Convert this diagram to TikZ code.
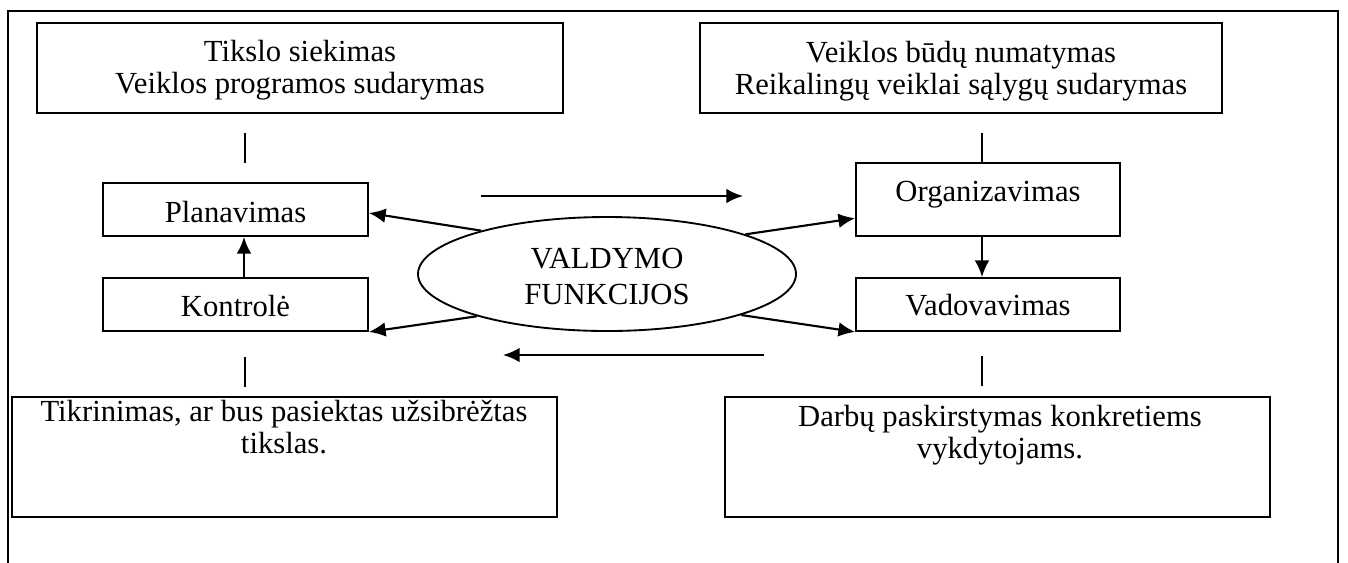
\documentclass[tikz,border=0pt]{standalone}
\usepackage{fontspec}
\setmainfont{Liberation Serif}
\usetikzlibrary{arrows.meta,shapes.geometric,calc}

\tikzset{
  frame/.style={line width=1.8pt},
  box/.style={draw, line width=1.4pt, rectangle, inner sep=0pt},
  txt/.style={inner sep=0pt, anchor=base, font=\fontsize{23}{25}\selectfont},
  plain/.style={line width=1.2pt},
  arr/.style={line width=1.6pt, -{Latex[length=12.5pt,width=11pt]}},
}

\begin{document}
\begin{tikzpicture}[x=0.75pt,y=-0.75pt]
  \useasboundingbox (0,0) rectangle (1348,562);
  \clip (0,0) rectangle (1348,562);

  % open frame around the whole scheme
  \draw[frame] (8,575) -- (8,11) -- (1338,11) -- (1338,575);

  % boxes
  \node[box, minimum width=394.5pt, minimum height=67.5pt] (tl) at (300,68) {};
  \node[box, minimum width=391.5pt, minimum height=67.5pt] (tr) at (961,68) {};
  \node[box, minimum width=198.75pt, minimum height=39.75pt] (plan) at (235.5,209.5) {};
  \node[box, minimum width=198.75pt, minimum height=39.75pt] (kon) at (235.5,304.5) {};
  \node[box, minimum width=198pt, minimum height=54.75pt] (org) at (988,199.5) {};
  \node[box, minimum width=198pt, minimum height=39.75pt] (vad) at (988,304.5) {};
  \node[box, minimum width=408.75pt, minimum height=90pt] (bl) at (284.5,457) {};
  \node[box, minimum width=408.75pt, minimum height=90pt] (br) at (997.5,457) {};

  % central ellipse
  \node[draw, ellipse, line width=1.4pt, inner sep=0pt,
        minimum width=283.5pt, minimum height=85.5pt] (ell) at (607,274) {};

  % texts
  \node[txt] (tl1) at (300,61) {Tikslo siekimas};
  \node[txt] (tl2) at (300,93) {Veiklos programos sudarymas};
  \node[txt] (tr1) at (961,62) {Veiklos būdų numatymas};
  \node[txt] (tr2) at (961,94) {Reikalingų veiklai sąlygų sudarymas};
  \node[txt] (pl) at (235.5,222) {Planavimas};
  \node[txt] (ko) at (235.5,316) {Kontrolė};
  \node[txt] (or) at (988,201) {Organizavimas};
  \node[txt] (va) at (988,315) {Vadovavimas};
  \node[txt] (e1) at (607,268) {VALDYMO};
  \node[txt] (e2) at (607,304) {FUNKCIJOS};
  \node[txt] (bl1) at (284,421) {Tikrinimas, ar bus pasiektas užsibrėžtas};
  \node[txt] (bl2) at (284,453) {tikslas.};
  \node[txt] (br1) at (1000,426) {Darbų paskirstymas konkretiems};
  \node[txt] (br2) at (1000,458) {vykdytojams.};

  % short vertical links
  \coordinate (v1a) at (245,133);
  \coordinate (v1b) at (245,163);
  \draw[plain] (v1a) -- (v1b);
  \coordinate (v2a) at (982,133);
  \draw[plain] (v2a) -- (v2a |- org.north);
  \coordinate (v3a) at (245,357);
  \coordinate (v3b) at (245,387);
  \draw[plain] (v3a) -- (v3b);
  \coordinate (v4a) at (982,356);
  \coordinate (v4b) at (982,386);
  \draw[plain] (v4a) -- (v4b);

  % arrows between boxes
  \draw[arr] ($(kon.north)+(8.5,0)$) -- ($(plan.south)+(8.5,0)$);
  \draw[arr] ($(org.south)+(-6,0)$) -- ($(vad.north)+(-6,0)$);

  % arrows from the ellipse
  \draw[arr] (ell.161) -- ($(plan.east)+(0,3.5)$);
  \draw[arr] (ell.198) -- (kon.south east);
  \draw[arr] (ell.16) -- ($(org.south west)!0.25!(org.north west)$);
  \draw[arr] (ell.-17) -- (vad.south west);

  % circulation arrows
  \coordinate (h1a) at (481,196);
  \coordinate (h1b) at (743,196);
  \draw[arr] (h1a) -- (h1b);
  \coordinate (h2a) at (764,355);
  \coordinate (h2b) at (503,355);
  \draw[arr] (h2a) -- (h2b);
\end{tikzpicture}
\end{document}
